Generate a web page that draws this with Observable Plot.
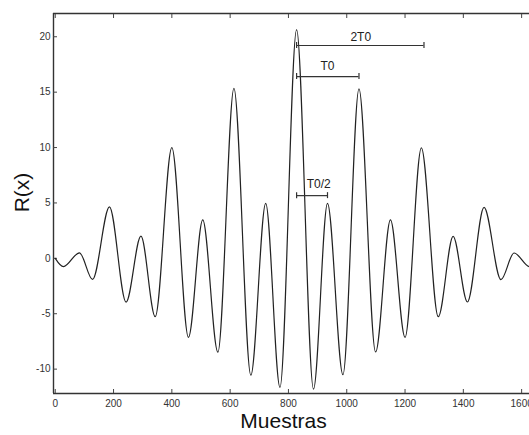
<!DOCTYPE html>
<html>
<head>
<meta charset="utf-8">
<script src="https://cdn.jsdelivr.net/npm/d3@7"></script>
<script src="https://cdn.jsdelivr.net/npm/@observablehq/plot@0.6"></script>
<style>
  html, body { margin: 0; padding: 0; background: white; overflow: hidden; }
</style>
</head>
<body>
<div id="chart"></div>
<script>
// Autocorrelation extrema (lag in samples, R value)
const lags = [0, 28, 83, 128, 186, 243, 294, 343, 400, 457, 506, 558, 613, 671, 722, 771,
              828, 886, 934, 987, 1042, 1099, 1150, 1200, 1256, 1314, 1365, 1414, 1471, 1529, 1574, 1628, 1656];
const rValues = [0, -0.75, 0.5, -1.9, 4.65, -3.95, 2.0, -5.27, 10.0, -7.13, 3.47, -8.47, 15.35, -10.55, 4.97, -11.65,
                 20.65, -11.8, 4.97, -10.5, 15.3, -8.45, 3.47, -7.13, 9.97, -5.27, 1.99, -3.94, 4.6, -1.92, 0.48, -0.75, 0];

const xTicks = [0, 200, 400, 600, 800, 1000, 1200, 1400, 1600];
const yTicks = [-10, -5, 0, 5, 10, 15, 20];

// Period annotations
const annLabels = ["2T0", "T0", "T0/2"];
const annStart = [828, 828, 828];
const annEnd = [1265, 1042, 934];
const annBarY = [19.21, 16.41, 5.66];
const annLabelX = [1048, 934, 904];
const annLabelY = [19.96, 17.35, 6.72];

const xLabel = "Muestras";
const yLabel = "R(x)";

const series = lags.map((x, i) => ({x, y: rValues[i]}));
const ann = annLabels.map((label, i) => ({label, x1: annStart[i], x2: annEnd[i], y: annBarY[i], lx: annLabelX[i], ly: annLabelY[i]}));
const caps = ann.flatMap(a => [{x: a.x1, y: a.y}, {x: a.x2, y: a.y}]);

const xDomain = [-6, 1627];
const yDomain = [-12.2, 22.1];
const fmt = d => String(d);

const chart = Plot.plot({
  width: 529,
  height: 435,
  marginLeft: 53,
  marginRight: 0,
  marginTop: 13,
  marginBottom: 42,
  x: {domain: xDomain},
  y: {domain: yDomain},
  style: {fontFamily: "'Liberation Sans', Arial, sans-serif", fontSize: "10px", color: "#333", background: "white", overflow: "hidden"},
  marks: [
    // frame lines (top, bottom, left)
    Plot.ruleY([yDomain[1], yDomain[0]], {stroke: "#333", strokeWidth: 1.4}),
    Plot.ruleX([xDomain[0]], {stroke: "#333", strokeWidth: 1.4}),
    // inward ticks
    Plot.axisX({ticks: xTicks, anchor: "bottom", tickSize: -4, text: null, label: null, stroke: "#444"}),
    Plot.axisX({ticks: xTicks, anchor: "top", tickSize: -4, text: null, label: null, stroke: "#444"}),
    Plot.axisY({ticks: yTicks, anchor: "left", tickSize: -4, text: null, label: null, stroke: "#444"}),
    // tick labels
    Plot.axisX({ticks: xTicks, anchor: "bottom", tickSize: 0, tickPadding: 6, tickFormat: fmt, label: null, fill: "#333"}),
    Plot.axisY({ticks: yTicks, anchor: "left", tickSize: 0, tickPadding: 3, tickFormat: fmt, label: null, fill: "#333"}),
    // curve
    Plot.line(series, {x: "x", y: "y", curve: "monotone-x", stroke: "#222", strokeWidth: 1.2}),
    // annotations
    Plot.ruleY(ann, {x1: "x1", x2: "x2", y: "y", stroke: "#333", strokeWidth: 1.2}),
    Plot.ruleX(caps, {x: "x", y1: d => d.y - 0.27, y2: d => d.y + 0.27, stroke: "#333", strokeWidth: 1.2}),
    Plot.text(ann, {x: "lx", y: "ly", text: "label", fontSize: 12, fill: "#222"}),
    // axis titles
    Plot.text([xLabel], {frameAnchor: "bottom", lineAnchor: "middle", textAnchor: "middle", dx: -8, dy: 28, fontSize: 21, fill: "#111"}),
    Plot.text([yLabel], {frameAnchor: "left", lineAnchor: "middle", textAnchor: "middle", dx: -31, dy: -11, rotate: -90, fontSize: 21, fill: "#111"})
  ]
});
document.getElementById("chart").appendChild(chart);
</script>
</body>
</html>
